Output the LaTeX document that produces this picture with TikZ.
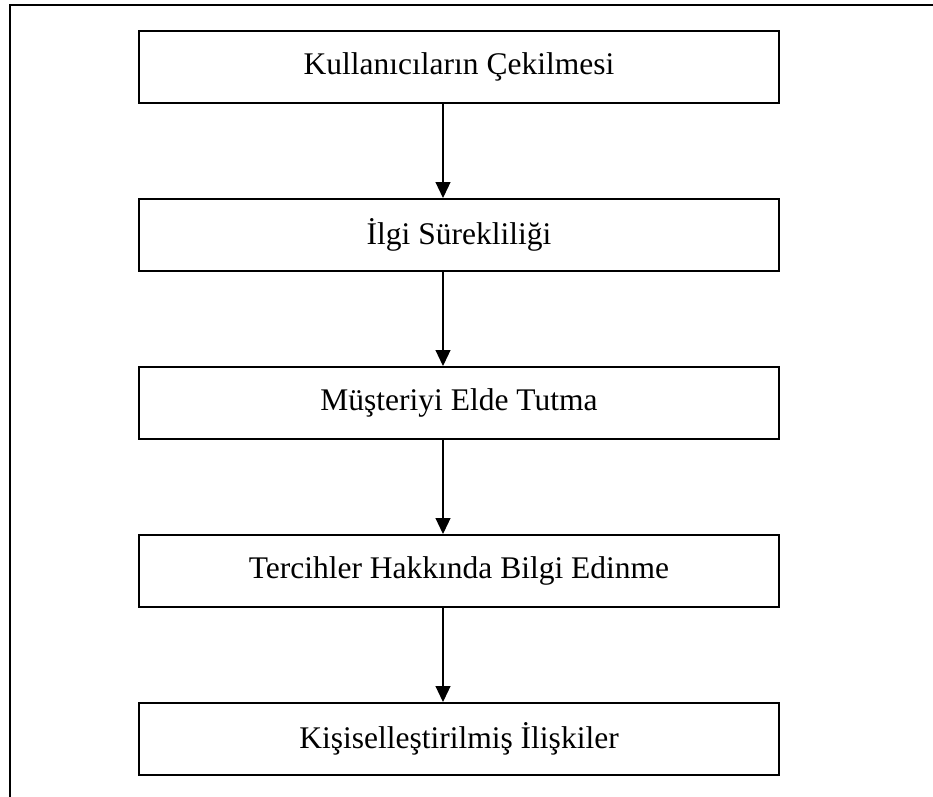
\documentclass[tikz,border=0pt]{standalone}
\usepackage{fontspec}
\setmainfont{Liberation Serif}
\usetikzlibrary{arrows.meta}
\begin{document}
\begin{tikzpicture}[x=1pt,y=-1pt,
  stepbox/.style={draw=black,line width=2pt,minimum width=640pt,minimum height=72pt,inner sep=0pt,
    font=\fontsize{31.5}{38}\selectfont},
  flowarrow/.style={line width=1.2pt,-{Triangle[length=16pt,width=15pt]}},
  framepen/.style={line width=2pt,line cap=rect}]
\useasboundingbox (0,0) rectangle (933,796);
\draw[framepen] (933,5) -- (10,5) -- (10,796);
\coordinate (ax) at (443,0);
\node[stepbox] (b1) at (459,67) {Kullanıcıların Çekilmesi};
\node[stepbox] (b2) at (459,235) {İlgi Sürekliliği};
\node[stepbox] (b3) at (459,403) {Müşteriyi Elde Tutma};
\node[stepbox] (b4) at (459,571) {Tercihler Hakkında Bilgi Edinme};
\node[stepbox] (b5) at (459,739) {Kişiselleştirilmiş İlişkiler};
\draw[flowarrow] (b1.south -| ax) -- (b2.north -| ax);
\draw[flowarrow] (b2.south -| ax) -- (b3.north -| ax);
\draw[flowarrow] (b3.south -| ax) -- (b4.north -| ax);
\draw[flowarrow] (b4.south -| ax) -- (b5.north -| ax);
\end{tikzpicture}
\end{document}
